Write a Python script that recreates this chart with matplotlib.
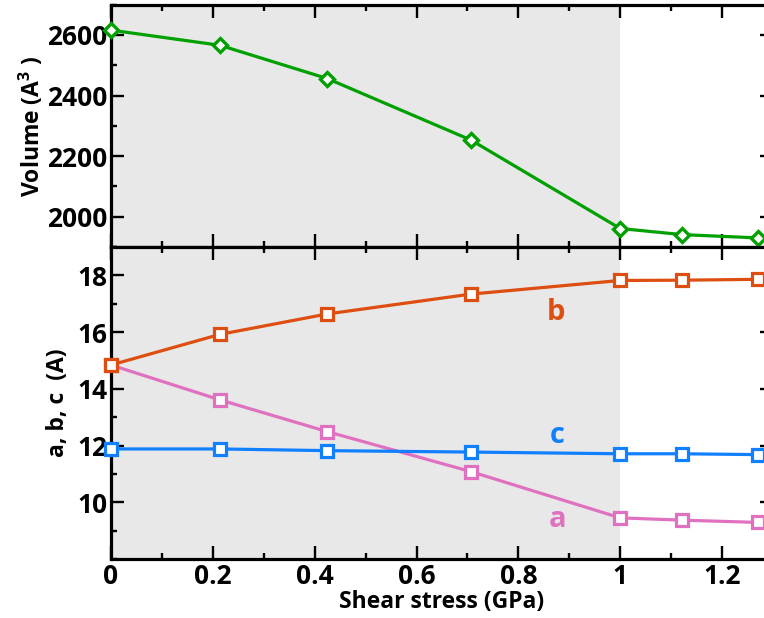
import matplotlib
matplotlib.use("Agg")
import matplotlib.pyplot as plt
from matplotlib.ticker import MultipleLocator, FixedLocator, FuncFormatter

# ---- data ----
stress = [0.0, 0.214, 0.425, 0.707, 1.0, 1.121, 1.27]
volume = [2616, 2566, 2456, 2253, 1961, 1941, 1930]
b_len = [14.84, 15.92, 16.64, 17.34, 17.82, 17.83, 17.86]
a_len = [14.84, 13.61, 12.49, 11.08, 9.45, 9.37, 9.29]
c_len = [11.88, 11.88, 11.82, 11.77, 11.71, 11.71, 11.68]
vol_ticks = [2000, 2200, 2400, 2600]
abc_ticks = [10, 12, 14, 16, 18]
shade_range = [0.0, 1.0]

plt.rcParams['font.family'] = ['Open Sans', 'DejaVu Sans']
plt.rcParams['font.weight'] = 'bold'
plt.rcParams['mathtext.fontset'] = 'custom'
plt.rcParams['mathtext.rm'] = 'Open Sans:bold'
plt.rcParams['mathtext.bf'] = 'Open Sans:bold'
plt.rcParams['mathtext.it'] = 'Open Sans:bold'

green = '#00a000'
orange = '#dd4e10'
pink = '#e070c0'
blue = '#1180ff'
shade = '#e8e8e8'

fig = plt.figure(figsize=(7.64, 6.18), dpi=100)
W, H = 764, 618
left, right = 111, 773
ax1 = fig.add_axes([left / W, 1 - 247 / H, (right - left) / W, (247 - 4.7) / H])
ax2 = fig.add_axes([left / W, 1 - 559 / H, (right - left) / W, (559 - 247) / H])

fs = 16.5
tfs = 19
for ax in (ax1, ax2):
    ax.axvspan(shade_range[0], shade_range[1], color=shade, lw=0, zorder=0)
    ax.set_xlim(0, 1.3)
    ax.xaxis.set_major_locator(MultipleLocator(0.2))
    ax.xaxis.set_minor_locator(MultipleLocator(0.1))
    for sp in ax.spines.values():
        sp.set_linewidth(2.3)
    ax.tick_params(which='both', direction='in', top=True, right=True, width=1.7)
    ax.tick_params(which='major', length=9.5)
    ax.tick_params(which='minor', length=4.5)
    ax.tick_params(axis='x', pad=3)
    ax.tick_params(axis='y', pad=2.5)

ax1.plot(stress, volume, color=green, lw=2.3, marker='D', ms=7.2, mew=2.4,
         mfc='white', mec=green, zorder=3, clip_on=False)
ax1.set_ylim(1900, 2700)
ax1.yaxis.set_major_locator(FixedLocator(vol_ticks))
ax1.yaxis.set_minor_locator(MultipleLocator(100))
ax1.tick_params(axis='x', labelbottom=False)
ax1.set_ylabel('Volume (A$^{3}$ )', fontsize=fs, fontweight='bold')
ax1.yaxis.label.set_va('center')
ax1.yaxis.set_label_coords(-0.120, 0.5)

for vals, col in ((a_len, pink), (c_len, blue), (b_len, orange)):
    ax2.plot(stress, vals, color=col, lw=2.3, marker='s', ms=8.4, mew=2.3,
             mfc='white', mec=col, zorder=3, clip_on=False)
ax2.set_ylim(8, 19)
ax2.yaxis.set_major_locator(FixedLocator(abc_ticks))
ax2.yaxis.set_minor_locator(MultipleLocator(1))
ax2.xaxis.set_major_formatter(FuncFormatter(lambda v, p: '%g' % round(v, 2)))
ax2.set_ylabel('a, b, c  (A)', fontsize=fs, fontweight='bold')
ax2.yaxis.label.set_va('center')
ax2.yaxis.set_label_coords(-0.080, 0.5)
ax2.set_xlabel('Shear stress (GPa)', fontsize=fs, fontweight='bold', labelpad=0)

ax2.text(0.874, 16.70, 'b', color=orange, fontsize=21, fontweight='bold', ha='center', va='center')
ax2.text(0.876, 12.36, 'c', color=blue, fontsize=21, fontweight='bold', ha='center', va='center')
ax2.text(0.876, 9.40, 'a', color=pink, fontsize=21, fontweight='bold', ha='center', va='center')

fig.canvas.draw()
for lab in ax2.get_xticklabels() + ax2.get_yticklabels() + ax1.get_yticklabels():
    lab.set_fontweight('bold')
    lab.set_fontsize(tfs)

fig.savefig('out.png', dpi=100)
